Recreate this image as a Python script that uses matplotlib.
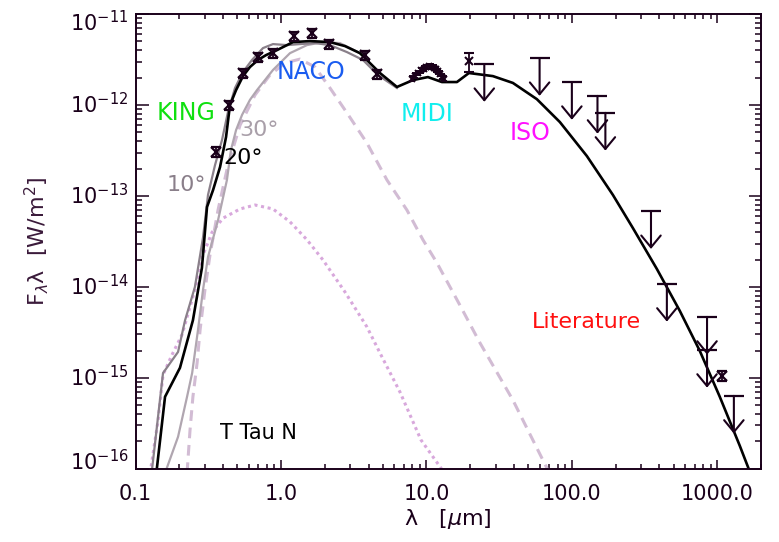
import matplotlib
matplotlib.use("Agg")
import matplotlib.pyplot as plt
from matplotlib.ticker import LogLocator, NullFormatter
from matplotlib.transforms import offset_copy

# ── Data (wavelength in um, flux lambda*F_lambda in W/m^2) ───────────────────
PHOT_WAVE = [0.36, 0.44, 0.55, 0.70, 0.88, 1.23, 1.63, 2.14, 3.78, 4.57, 1074]
PHOT_FLUX = [3.05e-13, 1.0e-12, 2.25e-12, 3.37e-12, 3.72e-12, 5.73e-12,
             6.18e-12, 4.68e-12, 3.55e-12, 2.19e-12, 1.05e-15]
PHOT_ERR_FRAC = 0.12

MIDI_WAVE = [8.0, 8.4, 8.8, 9.2, 9.6, 10.0, 10.4, 10.8, 11.2, 11.6, 12.0, 12.4, 12.8, 13.2]
MIDI_FLUX = [1.95e-12, 2.10e-12, 2.25e-12, 2.40e-12, 2.52e-12, 2.62e-12, 2.68e-12,
             2.65e-12, 2.58e-12, 2.48e-12, 2.35e-12, 2.22e-12, 2.05e-12, 1.95e-12]

IRAS20_WAVE = [19.6]
IRAS20_FLUX = [3.05e-12]
IRAS20_ERR = [[0.74e-12], [0.67e-12]]

UL_WAVE = [25, 60, 100, 150, 170, 350, 450, 850, 850, 1300]
UL_FLUX = [2.82e-12, 3.28e-12, 1.79e-12, 1.26e-12, 8.2e-13, 6.8e-14,
           1.08e-14, 4.68e-15, 2.03e-15, 6.34e-16]

# model, i = 20 deg
M20_WAVE = [0.139, 0.1595, 0.202, 0.248, 0.286, 0.310, 0.341, 0.381, 0.419, 0.446,
            0.491, 0.548, 0.612, 0.695, 0.789, 0.939, 1.209, 1.582, 2.172, 2.754,
            3.491, 4.791, 6.271, 8.075, 10.24, 12.78, 16.21, 19.60, 28.64, 39.31,
            57.47, 82.7, 126.8, 191.3, 262.6, 383.8, 552.5, 758, 1040, 1428, 1673]
M20_FLUX = [9e-17, 6.2e-16, 1.29e-15, 4.3e-15, 1.62e-14, 7.57e-14, 1.16e-13, 2.08e-13,
            4.45e-13, 1.0e-12, 1.46e-12, 2.08e-12, 2.62e-12, 3.13e-12, 3.54e-12, 4.02e-12,
            4.92e-12, 5.05e-12, 4.92e-12, 4.45e-12, 3.72e-12, 2.25e-12, 1.58e-12, 1.88e-12,
            2.03e-12, 1.79e-12, 1.79e-12, 2.25e-12, 2.08e-12, 1.75e-12, 1.16e-12, 6.5e-13,
            2.75e-13, 1.03e-13, 4.45e-14, 1.58e-14, 5.45e-15, 1.98e-15, 6.2e-16, 1.79e-16,
            9.3e-17]

# model, i = 10 deg
M10_WAVE = [0.129, 0.1545, 0.196, 0.219, 0.256, 0.291, 0.315, 0.352, 0.393, 0.432,
            0.483, 0.548, 0.632, 0.752, 0.881, 1.099, 1.351, 1.713, 2.172, 2.842,
            3.661, 4.642, 6.271]
M10_FLUX = [9e-17, 1.13e-15, 1.93e-15, 4.3e-15, 1.0e-14, 3.5e-14, 1.03e-13, 2.19e-13,
            4.12e-13, 8.4e-13, 1.54e-12, 2.31e-12, 3.13e-12, 4.23e-12, 4.68e-12, 4.56e-12,
            4.68e-12, 4.80e-12, 4.56e-12, 3.82e-12, 3.13e-12, 2.14e-12, 1.54e-12]

# model, i = 30 deg
M30_WAVE = [0.1595, 0.196, 0.226, 0.245, 0.269, 0.291, 0.315, 0.369, 0.425, 0.453,
            0.491, 0.540, 0.612, 0.684, 0.881, 1.153, 1.509, 1.944, 2.544, 3.491]
M30_FLUX = [9e-17, 2.25e-16, 6.2e-16, 1.13e-15, 3.4e-15, 9.3e-15, 2.14e-14, 5.4e-14,
            1.5e-13, 3.2e-13, 5.3e-13, 7.8e-13, 1.14e-12, 1.46e-12, 2.43e-12, 3.72e-12,
            4.56e-12, 4.92e-12, 4.80e-12, 3.72e-12]

# component curves
DASH_WAVE = [0.226, 0.237, 0.248, 0.265, 0.278, 0.300, 0.325, 0.369, 0.432, 0.523,
             0.663, 0.840, 1.065, 1.351, 1.713, 2.172, 2.842, 3.900, 5.352, 7.345,
             9.461, 11.81, 16.99, 23.33, 39.31, 70.0]
DASH_FLUX = [9e-17, 2.69e-16, 6.2e-16, 1.46e-15, 3.4e-15, 9.3e-15, 2.25e-14, 7.0e-14,
             2.19e-13, 6.0e-13, 1.29e-12, 2.14e-12, 2.90e-12, 3.20e-12, 2.62e-12, 1.54e-12,
             8.2e-13, 3.82e-13, 1.5e-13, 7.0e-14, 3.3e-14, 1.84e-14, 6.3e-15, 2.43e-15,
             5.7e-16, 9e-17]

DOT_WAVE = [0.126, 0.143, 0.1545, 0.178, 0.209, 0.256, 0.291, 0.336, 0.399, 0.523,
            0.663, 0.881, 1.153, 1.509, 1.944, 2.754, 3.900, 4.791, 6.576, 9.17, 13.3]
DOT_FLUX = [9e-17, 3.45e-16, 1.08e-15, 1.79e-15, 3.0e-15, 9.3e-15, 2.25e-14, 4.0e-14,
            5.7e-14, 7.2e-14, 7.96e-14, 7.2e-14, 5.2e-14, 3.3e-14, 1.98e-14, 8.8e-15,
            3.63e-15, 1.88e-15, 7.0e-16, 2.08e-16, 9e-17]

XTICKS = [0.1, 1.0, 10.0, 100.0, 1000.0]
XTICK_LABELS = ["0.1", "1.0", "10.0", "100.0", "1000.0"]
YTICK_EXP = [-11, -12, -13, -14, -15, -16]

# ── Style ─────────────────────────────────────────────────────────────────────
INK = "#1a001a"
plt.rcParams["font.family"] = "DejaVu Sans"
plt.rcParams["mathtext.fontset"] = "dejavusans"

fig = plt.figure(figsize=(7.79, 5.42), dpi=100)
ax = fig.add_axes([0.174, 0.135, 0.803, 0.839])

ax.plot(DOT_WAVE, DOT_FLUX, color="#d8a8dc", lw=2.2, linestyle=(0, (1, 1.2)))
ax.plot(DASH_WAVE, DASH_FLUX, color="#d2bcd4", lw=2.2, dashes=(3.5, 2.2))
ax.plot(M30_WAVE, M30_FLUX, color="#b0a6b0", lw=1.6)
ax.plot(M10_WAVE, M10_FLUX, color="#8a808a", lw=1.6)
ax.plot(M20_WAVE, M20_FLUX, color="black", lw=1.9)

# photometry with small error bars
perr = [f * PHOT_ERR_FRAC for f in PHOT_FLUX]
ax.errorbar(PHOT_WAVE, PHOT_FLUX, yerr=perr, fmt="x", color=INK, ms=7, mew=1.6,
            elinewidth=1.3, capsize=3.5, capthick=1.6)
merr = [f * 0.06 for f in MIDI_FLUX]
ax.errorbar(MIDI_WAVE, MIDI_FLUX, yerr=merr, fmt="x", color=INK, ms=5, mew=1.4,
            elinewidth=1.1, capsize=2.2, capthick=1.3)
ax.errorbar(IRAS20_WAVE, IRAS20_FLUX, yerr=IRAS20_ERR, fmt="x", color=INK, ms=6,
            mew=1.5, elinewidth=1.3, capsize=3.5, capthick=1.5)

# upper limits
for w, f in zip(UL_WAVE, UL_FLUX):
    ax.plot([w], [f], marker="_", ms=14, mew=1.6, color=INK)
    ax.annotate("", xy=(w, f / 2.6), xytext=(w, f),
                arrowprops=dict(arrowstyle="->,head_length=0.85,head_width=0.7",
                                color=INK, lw=1.5, shrinkA=0, shrinkB=0))

ax.set_xscale("log")
ax.set_yscale("log")
ax.set_xlim(0.1, 2000)
ax.set_ylim(1e-16, 1e-11)

ax.set_xticks(XTICKS, labels=XTICK_LABELS)
ax.xaxis.set_minor_locator(LogLocator(base=10, subs=range(2, 10), numticks=20))
ax.xaxis.set_minor_formatter(NullFormatter())
ax.set_yticks([10.0 ** e for e in YTICK_EXP])
ax.yaxis.set_minor_locator(LogLocator(base=10, subs=range(2, 10), numticks=20))
ax.yaxis.set_minor_formatter(NullFormatter())
ax.tick_params(axis="both", which="both", direction="in", top=True, right=True,
               color=INK, width=1.1)
ax.tick_params(axis="x", which="major", length=6.5, labelsize=15, pad=11, labelcolor=INK)
ax.tick_params(axis="x", which="minor", length=3.5)
ax.tick_params(axis="y", which="major", length=9, labelleft=False)
ax.tick_params(axis="y", which="minor", length=4.5)
for s in ax.spines.values():
    s.set_color(INK)
    s.set_linewidth(1.4)

# y tick labels, IDL style (end labels pulled inside)
ytrans = ax.get_yaxis_transform()
for e in YTICK_EXP:
    dy = 0
    if e == YTICK_EXP[0]:
        dy = -6
    elif e == YTICK_EXP[-1]:
        dy = 5
    tr = offset_copy(ytrans, fig=fig, x=-5, y=dy, units="points")
    ax.text(0, 10.0 ** e, r"$\mathdefault{10^{%d}}$" % e, transform=tr,
            ha="right", va="center", fontsize=15, color=INK)

ax.set_xlabel(r"λ   [$\mu$m]", fontsize=16, color=INK, labelpad=2)
fig.text(0.047, 0.555, r"F$_\lambda$λ  [W/m$^2$]", rotation=90, fontsize=16,
         color="#3a1a3a", ha="center", va="center")

# annotations
ax.text(0.0807, 0.782, "KING", transform=ax.transAxes, color="#10e010",
        fontsize=17, ha="center", va="center")
ax.text(0.2806, 0.8725, "NACO", transform=ax.transAxes, color="#1a5cf0",
        fontsize=17, ha="center", va="center")
ax.text(0.466, 0.7802, "MIDI", transform=ax.transAxes, color="#10eeee",
        fontsize=17, ha="center", va="center")
ax.text(0.6307, 0.7385, "ISO", transform=ax.transAxes, color="#ff10ff",
        fontsize=17, ha="center", va="center")
ax.text(0.7202, 0.3231, "Literature", transform=ax.transAxes, color="#ff1010",
        fontsize=16, ha="center", va="center")
ax.text(0.0807, 0.6242, "10°", transform=ax.transAxes, color="#8a7f8a",
        fontsize=16, ha="center", va="center")
ax.text(0.1719, 0.6835, "20°", transform=ax.transAxes, color="black",
        fontsize=16, ha="center", va="center")
ax.text(0.1974, 0.745, "30°", transform=ax.transAxes, color="#a99fa9",
        fontsize=16, ha="center", va="center")
ax.text(0.1958, 0.0791, "T Tau N", transform=ax.transAxes, color="black",
        fontsize=15, ha="center", va="center")

fig.savefig("out.png", dpi=100)
